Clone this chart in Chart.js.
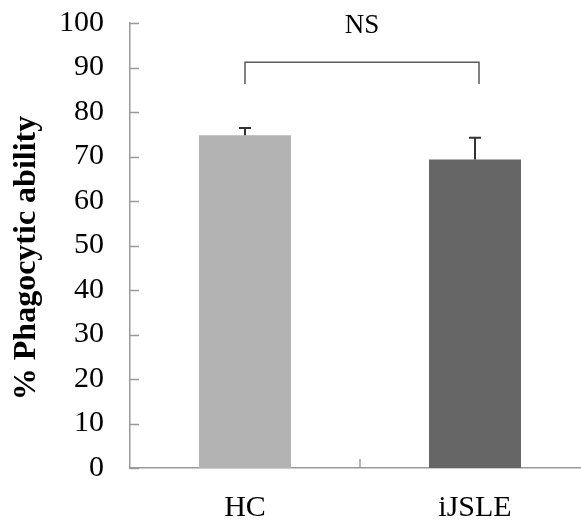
<!DOCTYPE html>
<html lang="en">
<head>
<meta charset="UTF-8">
<title>Phagocytic ability</title>
<style>
  html, body { margin: 0; padding: 0; background: #fff; overflow: hidden; }
  #wrap { width: 600px; height: 525px; }
</style>
</head>
<body>
<div id="wrap"><canvas id="chart" width="600" height="525"></canvas></div>
<script src="https://cdn.jsdelivr.net/npm/chart.js"></script>
<script>
// group means and SD (upper whisker only)
const groups = ['HC', 'iJSLE'];
const means = [74.8, 69.3];
const errors = [1.6, 4.9];
const barColors = ['#b3b3b3', '#666666'];
const yTicks = [0, 10, 20, 30, 40, 50, 60, 70, 80, 90, 100];
// comparison bracket: top and leg ends in axis units, with its label
const bracketTop = 91.2;
const bracketFoot = 86.3;
const bracketLabel = 'NS';

const SERIF = '"Liberation Serif", "Times New Roman", serif';

// short ticks pointing into the plot, plus the mid tick on the category axis
const innerTicks = {
    id: 'innerTicks',
    afterDraw(chart) {
        const {ctx, scales: {x, y}} = chart;
        ctx.save();
        ctx.strokeStyle = '#9a9a9a';
        ctx.lineWidth = 1.5;
        yTicks.forEach(v => {
            const py = Math.round(y.getPixelForValue(v)) + 0.5;
            ctx.beginPath();
            ctx.moveTo(x.left, py);
            ctx.lineTo(x.left + 9, py);
            ctx.stroke();
        });
        const mid = (x.getPixelForValue(0) + x.getPixelForValue(1)) / 2;
        ctx.beginPath();
        ctx.moveTo(mid, y.bottom);
        ctx.lineTo(mid, y.bottom - 9);
        ctx.stroke();
        ctx.restore();
    }
};

const errorBars = {
    id: 'errorBars',
    afterDatasetsDraw(chart) {
        const {ctx, scales: {y}} = chart;
        const meta = chart.getDatasetMeta(0);
        ctx.save();
        ctx.strokeStyle = '#333';
        ctx.lineWidth = 2;
        meta.data.forEach((bar, i) => {
            const top = y.getPixelForValue(means[i] + errors[i]);
            ctx.beginPath();
            ctx.moveTo(bar.x, bar.y);
            ctx.lineTo(bar.x, top);
            ctx.moveTo(bar.x - 6, top);
            ctx.lineTo(bar.x + 6, top);
            ctx.stroke();
        });
        ctx.restore();
    }
};

const bracket = {
    id: 'bracket',
    afterDraw(chart) {
        const {ctx, scales: {x, y}} = chart;
        const x0 = x.getPixelForValue(0);
        const x1 = x.getPixelForValue(1) + 4;
        const yt = y.getPixelForValue(bracketTop);
        const yf = y.getPixelForValue(bracketFoot);
        ctx.save();
        ctx.strokeStyle = '#5a5a5a';
        ctx.lineWidth = 1.5;
        ctx.beginPath();
        ctx.moveTo(x0, yf);
        ctx.lineTo(x0, yt);
        ctx.lineTo(x1, yt);
        ctx.lineTo(x1, yf);
        ctx.stroke();
        ctx.fillStyle = '#000';
        ctx.font = '27px ' + SERIF;
        ctx.textAlign = 'center';
        ctx.textBaseline = 'alphabetic';
        ctx.fillText(bracketLabel, (x0 + x1) / 2, 33);

        // y-axis title
        ctx.translate(27, 258);
        ctx.rotate(-Math.PI / 2);
        ctx.font = 'bold 32px ' + SERIF;
        ctx.textBaseline = 'middle';
        ctx.fillText('% Phagocytic ability', 0, 0);
        ctx.restore();
    }
};

new Chart(document.getElementById('chart'), {
    type: 'bar',
    data: {
        labels: groups,
        datasets: [{
            data: means,
            backgroundColor: barColors,
            borderWidth: 0,
            barPercentage: 1,
            categoryPercentage: 0.4
        }]
    },
    options: {
        responsive: false,
        animation: false,
        layout: { padding: { top: 23, right: 10, left: 0, bottom: 0 } },
        plugins: { legend: { display: false }, tooltip: { enabled: false } },
        scales: {
            x: {
                grid: { display: false, drawTicks: false },
                border: { display: true, color: '#9a9a9a', width: 1.5 },
                ticks: { color: '#000', font: { family: SERIF, size: 30 }, padding: 22 },
                afterFit(scale) {
                    scale.height = 57;
                    scale.paddingLeft = 0;
                    scale.paddingRight = 0;
                }
            },
            y: {
                min: 0,
                max: 100,
                afterBuildTicks(scale) { scale.ticks = yTicks.map(v => ({ value: v })); },
                grid: { display: false, drawTicks: false },
                border: { display: true, color: '#9a9a9a', width: 1.5 },
                ticks: { color: '#000', font: { family: SERIF, size: 30 }, padding: 26 },
                afterFit(scale) {
                    scale.width = 130;
                    scale.paddingTop = 0;
                    scale.paddingBottom = 0;
                }
            }
        }
    },
    plugins: [innerTicks, errorBars, bracket]
});
</script>
</body>
</html>
